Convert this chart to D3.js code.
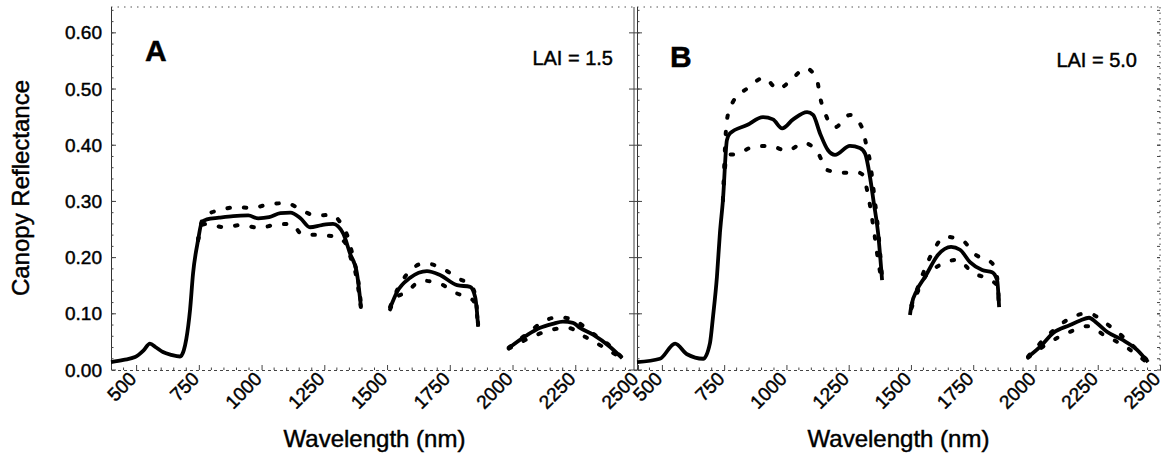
<!DOCTYPE html>
<html>
<head>
<meta charset="utf-8">
<script src="https://cdn.jsdelivr.net/npm/d3@7"></script>
<style>
  body { margin: 0; background: #fff; }
  text { font-family: "Liberation Sans", Arial, sans-serif; fill: #000; stroke: #000; stroke-width: 0.45px; }
</style>
</head>
<body>
<div id="chart"></div>
<script>
// tick labels
const xTicks = [500, 750, 1000, 1250, 1500, 1750, 2000, 2250, 2500];
const yTicks = [0.00, 0.10, 0.20, 0.30, 0.40, 0.50, 0.60];
const panelLetters = ['A', 'B'];
const laiLabels = ['LAI = 1.5', 'LAI = 5.0'];

// Panel A (LAI 1.5): [wavelength nm, reflectance]
const meanA_vnir = [[400,0.014],[450,0.018],[496,0.023],[530,0.035],[555,0.047],[580,0.040],[607,0.032],[640,0.027],[675,0.024],[690,0.035],[700,0.055],[715,0.107],[727,0.172],[747,0.231],[762,0.263],[782,0.268],[830,0.271],[887,0.274],[947,0.275],[987,0.270],[1030,0.272],[1075,0.279],[1115,0.280],[1155,0.270],[1193,0.254],[1240,0.258],[1285,0.260],[1325,0.243],[1352,0.208],[1380,0.172],[1396,0.112]];
const upperA_vnir = [[747,0.231],[762,0.265],[780,0.276],[840,0.285],[900,0.290],[960,0.288],[1020,0.294],[1100,0.297],[1150,0.287],[1215,0.275],[1280,0.276],[1320,0.258],[1345,0.235],[1365,0.200],[1385,0.160],[1396,0.118]];
const lowerA_vnir = [[747,0.231],[762,0.258],[780,0.260],[850,0.254],[920,0.258],[990,0.253],[1050,0.258],[1120,0.260],[1160,0.242],[1230,0.240],[1300,0.237],[1335,0.225],[1355,0.200],[1378,0.165],[1396,0.110]];
const meanA_swir1 = [[1512,0.110],[1540,0.139],[1592,0.164],[1659,0.176],[1711,0.169],[1779,0.151],[1831,0.148],[1851,0.130],[1858,0.105],[1863,0.077]];
const upperA_swir1 = [[1512,0.112],[1540,0.142],[1584,0.173],[1651,0.190],[1719,0.181],[1783,0.163],[1835,0.150],[1852,0.132],[1863,0.080]];
const lowerA_swir1 = [[1512,0.108],[1540,0.130],[1572,0.137],[1640,0.159],[1703,0.155],[1775,0.137],[1840,0.125],[1855,0.110],[1863,0.075]];
const meanA_swir2 = [[1985,0.039],[2058,0.062],[2110,0.075],[2160,0.082],[2201,0.086],[2241,0.084],[2269,0.075],[2321,0.063],[2389,0.041],[2437,0.021]];
const upperA_swir2 = [[1985,0.040],[2060,0.065],[2118,0.085],[2182,0.094],[2249,0.088],[2310,0.068],[2380,0.046],[2437,0.022]];
const lowerA_swir2 = [[1985,0.038],[2078,0.059],[2150,0.071],[2221,0.075],[2289,0.059],[2361,0.041],[2437,0.020]];

// Panel B (LAI 5.0)
const meanB_vnir = [[400,0.014],[492,0.020],[553,0.047],[601,0.028],[666,0.020],[693,0.048],[705,0.094],[721,0.166],[733,0.244],[745,0.302],[761,0.409],[773,0.421],[842,0.436],[906,0.450],[946,0.446],[983,0.430],[1027,0.446],[1083,0.459],[1107,0.454],[1135,0.421],[1167,0.391],[1195,0.383],[1255,0.399],[1295,0.395],[1316,0.385],[1335,0.345],[1350,0.300],[1368,0.244],[1384,0.160]];
const upperB_vnir = [[745,0.302],[761,0.445],[785,0.477],[846,0.502],[910,0.520],[966,0.500],[1014,0.514],[1078,0.537],[1123,0.516],[1135,0.486],[1155,0.457],[1195,0.432],[1255,0.454],[1303,0.432],[1320,0.402],[1336,0.370],[1350,0.320],[1368,0.250],[1384,0.165]];
const lowerB_vnir = [[745,0.302],[761,0.383],[797,0.384],[866,0.397],[934,0.399],[1002,0.390],[1070,0.404],[1127,0.386],[1163,0.356],[1223,0.351],[1284,0.352],[1305,0.348],[1324,0.320],[1348,0.258],[1370,0.190],[1384,0.155]];
const meanB_swir1 = [[1496,0.098],[1502,0.115],[1524,0.142],[1557,0.166],[1609,0.205],[1661,0.219],[1697,0.214],[1737,0.192],[1786,0.178],[1826,0.174],[1846,0.160],[1854,0.112]];
const upperB_swir1 = [[1502,0.115],[1530,0.150],[1585,0.208],[1637,0.237],[1705,0.231],[1757,0.206],[1826,0.190],[1846,0.165],[1854,0.115]];
const lowerB_swir1 = [[1502,0.110],[1549,0.160],[1617,0.187],[1685,0.196],[1749,0.173],[1818,0.160],[1846,0.150],[1854,0.110]];
const meanB_swir2 = [[1970,0.023],[2018,0.041],[2071,0.066],[2139,0.080],[2180,0.088],[2215,0.093],[2245,0.084],[2287,0.068],[2352,0.053],[2408,0.036],[2452,0.014]];
const upperB_swir2 = [[1970,0.024],[2071,0.070],[2143,0.093],[2211,0.101],[2280,0.084],[2352,0.059],[2452,0.016]];
const lowerB_swir2 = [[1970,0.022],[2071,0.053],[2139,0.068],[2211,0.078],[2276,0.062],[2352,0.044],[2452,0.012]];

const width = 1165, height = 461;
const yTop = 0.646;

const svg = d3.select('#chart').append('svg')
    .attr('width', width)
    .attr('height', height);

const yScale = d3.scaleLinear().domain([0, yTop]).range([370, 7]);

const panels = [
  { x0: 111, x1: 638, frameRight: 634,
    mean: [meanA_vnir, meanA_swir1, meanA_swir2],
    upper: [upperA_vnir, upperA_swir1, upperA_swir2],
    lower: [lowerA_vnir, lowerA_swir1, lowerA_swir2],
    letterX: 145, letterY: 61, laiX: 613, laiY: 65 },
  { x0: 637, x1: 1160, frameRight: 1160,
    mean: [meanB_vnir, meanB_swir1, meanB_swir2],
    upper: [upperB_vnir, upperB_swir1, upperB_swir2],
    lower: [lowerB_vnir, lowerB_swir1, lowerB_swir2],
    letterX: 670, letterY: 67, laiX: 1137, laiY: 67 }
];

panels.forEach((p, i) => {
  const xScale = d3.scaleLinear().domain([400, 2500]).range([p.x0, p.x1]);
  const g = svg.append('g');

  // frame: dotted top + right, solid-ish left
  g.append('line')
      .attr('x1', p.x0).attr('x2', p.frameRight)
      .attr('y1', yScale(yTop)).attr('y2', yScale(yTop))
      .attr('stroke', '#555').attr('stroke-width', 1)
      .attr('stroke-dasharray', '1.5 5');
  g.append('line')
      .attr('x1', p.frameRight).attr('x2', p.frameRight)
      .attr('y1', yScale(yTop)).attr('y2', yScale(0))
      .attr('stroke', '#444').attr('stroke-width', 1)
      .attr('stroke-dasharray', i === 0 ? null : '1.5 4');
  g.append('line')
      .attr('x1', p.x0 + 0.5).attr('x2', p.x0 + 0.5)
      .attr('y1', yScale(yTop)).attr('y2', yScale(0))
      .attr('stroke', '#333').attr('stroke-width', 1);

  // x axis
  const xAxis = g.append('g')
      .attr('transform', `translate(0, ${yScale(0)})`)
      .call(d3.axisBottom(xScale).tickValues(xTicks).tickSize(-5).tickFormat(d3.format('d')));
  xAxis.select('.domain').attr('stroke', '#444').attr('stroke-dasharray', '3 3');
  xAxis.selectAll('.tick line').attr('stroke', '#444');
  xAxis.selectAll('.tick text')
      .attr('font-size', 19)
      .attr('text-anchor', 'end')
      .attr('y', 0).attr('dy', 0)
      .attr('transform', 'translate(1, 10) rotate(-45)');

  const xMinor = d3.range(450, 2500, 50).filter(v => v % 250 !== 0);
  g.append('g')
      .selectAll('line').data(xMinor).join('line')
      .attr('x1', d => xScale(d)).attr('x2', d => xScale(d))
      .attr('y1', yScale(0)).attr('y2', yScale(0) - 2.5)
      .attr('stroke', '#444');

  // y ticks (inward)
  const yMinor = d3.range(0.02, yTop, 0.02);
  g.append('g')
      .selectAll('line').data(yMinor).join('line')
      .attr('x1', p.x0).attr('x2', p.x0 + 2.5)
      .attr('y1', d => yScale(d)).attr('y2', d => yScale(d))
      .attr('stroke', '#444');
  g.append('g')
      .selectAll('line').data(yTicks).join('line')
      .attr('x1', p.x0 - (i === 1 ? 8 : 0)).attr('x2', p.x0 + 5)
      .attr('y1', d => yScale(d)).attr('y2', d => yScale(d))
      .attr('stroke', '#444');
  if (i === 1) {
    g.append('g')
        .selectAll('line').data(yMinor.concat(yTicks)).join('line')
        .attr('x1', p.frameRight - 3).attr('x2', p.frameRight)
        .attr('y1', d => yScale(d)).attr('y2', d => yScale(d))
        .attr('stroke', '#444');
  }

  if (i === 0) {
    g.append('g')
        .selectAll('text').data(yTicks).join('text')
        .attr('x', 102)
        .attr('y', d => yScale(d))
        .attr('dy', '0.35em')
        .attr('text-anchor', 'end')
        .attr('font-size', 19)
        .text(d3.format('.2f'));
  }

  // curves
  const line = d3.line()
      .x(d => xScale(d[0]))
      .y(d => yScale(d[1]))
      .curve(d3.curveMonotoneX);

  p.upper.concat(p.lower).forEach(seg => {
    g.append('path')
        .datum(seg)
        .attr('fill', 'none')
        .attr('stroke', '#000')
        .attr('stroke-width', 4)
        .attr('stroke-linecap', 'round')
        .attr('stroke-dasharray', '2.5 14')
        .attr('d', line);
  });
  p.mean.forEach(seg => {
    g.append('path')
        .datum(seg)
        .attr('fill', 'none')
        .attr('stroke', '#000')
        .attr('stroke-width', 3.8)
        .attr('stroke-linejoin', 'round')
        .attr('d', line);
  });

  // labels
  g.append('text')
      .attr('x', p.letterX).attr('y', p.letterY)
      .attr('font-size', 30).attr('font-weight', 'bold')
      .text(panelLetters[i]);
  g.append('text')
      .attr('x', p.laiX).attr('y', p.laiY)
      .attr('text-anchor', 'end')
      .attr('font-size', 20)
      .text(laiLabels[i]);
  g.append('text')
      .attr('x', (p.x0 + p.x1) / 2).attr('y', 447)
      .attr('text-anchor', 'middle')
      .attr('font-size', 24)
      .text('Wavelength (nm)');
});

svg.append('text')
    .attr('transform', 'translate(29, 188) rotate(-90)')
    .attr('text-anchor', 'middle')
    .attr('font-size', 24)
    .text('Canopy Reflectance');
</script>
</body>
</html>
